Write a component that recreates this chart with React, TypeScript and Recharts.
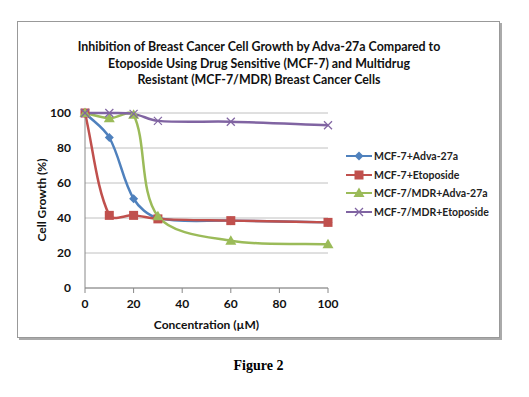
import React from 'react';
import { LineChart, Line, XAxis, YAxis, CartesianGrid } from 'recharts';

// concentrations (µM) shared by all series
const concentrations = [0, 10, 20, 30, 60, 100];
const mcf7Adva = [100, 86, 51, 40, 38.5, 37.5];
const mcf7Etoposide = [100, 41.5, 41.5, 39.5, 38.5, 37.5];
const mdrAdva = [100, 97, 99, 41, 27, 25];
const mdrEtoposide = [100, 100, 99.5, 95.5, 95, 93];

const xTicks = [0, 20, 40, 60, 80, 100];
const yTicks = [0, 20, 40, 60, 80, 100];

const titleLines = [
  'Inhibition of Breast Cancer Cell Growth by Adva-27a Compared to',
  'Etoposide Using Drug Sensitive (MCF-7) and Multidrug',
  'Resistant (MCF-7/MDR) Breast Cancer Cells',
];

const data = concentrations.map((c, i) => ({
  x: c,
  a: mcf7Adva[i],
  b: mcf7Etoposide[i],
  c: mdrAdva[i],
  d: mdrEtoposide[i],
}));

const FONT = 'Lato, "Open Sans", sans-serif';

// Excel-like smooth line: tangent from neighbours, scaled by chord lengths
const smooth = (context: any) => {
  let pts: number[][] = [];
  const dist = (p: number[], q: number[]) => Math.hypot(q[0] - p[0], q[1] - p[1]);
  return {
    areaStart() {},
    areaEnd() {},
    lineStart() {
      pts = [];
    },
    point(x: number, y: number) {
      pts.push([+x, +y]);
    },
    lineEnd() {
      if (!pts.length) return;
      context.moveTo(pts[0][0], pts[0][1]);
      for (let i = 0; i < pts.length - 1; i++) {
        const p0 = pts[i - 1] || pts[i];
        const p1 = pts[i];
        const p2 = pts[i + 1];
        const p3 = pts[i + 2] || p2;
        const d01 = dist(p0, p1);
        const d12 = dist(p1, p2);
        const d23 = dist(p2, p3);
        const k1 = d01 + d12 > 0 ? d12 / (d01 + d12) / 3 : 0;
        const k2 = d12 + d23 > 0 ? d12 / (d12 + d23) / 3 : 0;
        context.bezierCurveTo(
          p1[0] + (p2[0] - p0[0]) * k1,
          p1[1] + (p2[1] - p0[1]) * k1,
          p2[0] - (p3[0] - p1[0]) * k2,
          p2[1] - (p3[1] - p1[1]) * k2,
          p2[0],
          p2[1]
        );
      }
    },
  };
};

const Marker = ({ kind, cx, cy, color }: any) => {
  if (cx == null || cy == null) return null;
  if (kind === 'diamond') {
    const r = 4.5;
    return <polygon points={`${cx},${cy - r} ${cx + r},${cy} ${cx},${cy + r} ${cx - r},${cy}`} fill={color} />;
  }
  if (kind === 'square') {
    return <rect x={cx - 4.5} y={cy - 4.5} width={9} height={9} fill={color} />;
  }
  if (kind === 'triangle') {
    return <polygon points={`${cx},${cy - 5.5} ${cx + 5.5},${cy + 4} ${cx - 5.5},${cy + 4}`} fill={color} />;
  }
  return (
    <g stroke={color} strokeWidth={1.2}>
      <line x1={cx - 4} y1={cy - 4} x2={cx + 4} y2={cy + 4} />
      <line x1={cx - 4} y1={cy + 4} x2={cx + 4} y2={cy - 4} />
    </g>
  );
};

const series = [
  { key: 'a', name: 'MCF-7+Adva-27a', color: '#4F81BD', kind: 'diamond' },
  { key: 'b', name: 'MCF-7+Etoposide', color: '#C0504D', kind: 'square' },
  { key: 'c', name: 'MCF-7/MDR+Adva-27a', color: '#9BBB59', kind: 'triangle' },
  { key: 'd', name: 'MCF-7/MDR+Etoposide', color: '#8064A2', kind: 'x' },
];

const axisTick = { fontFamily: FONT, fontWeight: 700, fontSize: 12, fill: '#111' };

export default function App() {
  return (
    <div style={{ position: 'absolute', left: 0, top: 0, width: 529, height: 397, background: '#fff' }}>
      <div
        style={{
          position: 'absolute',
          left: 17,
          top: 21,
          width: 481,
          height: 315,
          border: '1px solid #999',
          boxShadow: '2px 2px 0 #aaa',
        }}
      />
      <div
        style={{
          position: 'absolute',
          left: 17,
          top: 39,
          width: 484,
          textAlign: 'center',
          fontFamily: FONT,
          fontWeight: 700,
          fontSize: 12.4,
          lineHeight: '16.5px',
          color: '#111',
        }}
      >
        {titleLines.map(t => (
          <div key={t}>{t}</div>
        ))}
      </div>
      <div style={{ position: 'absolute', left: 0, top: 0 }}>
        <LineChart width={529} height={397} data={data} margin={{ top: 113, right: 201, bottom: 84, left: 45 }}>
          <CartesianGrid stroke="#c0c0c0" vertical={false} />
          <XAxis
            dataKey="x"
            type="number"
            domain={[0, 100]}
            ticks={xTicks}
            tick={axisTick}
            stroke="#888"
            height={25}
            tickSize={5}
            tickMargin={6}
          />
          <YAxis
            type="number"
            domain={[0, 100]}
            ticks={yTicks}
            tick={axisTick}
            stroke="#888"
            width={40}
            tickSize={0}
            tickMargin={14}
          />
          {series.map(s => (
            <Line
              key={s.key}
              dataKey={s.key}
              name={s.name}
              type={smooth as any}
              stroke={s.color}
              strokeWidth={2.5}
              dot={(p: any) => <Marker key={`${s.key}-${p.index}`} kind={s.kind} cx={p.cx} cy={p.cy} color={s.color} />}
              activeDot={false}
              isAnimationActive={false}
            />
          ))}
        </LineChart>
      </div>
      {/* axis titles */}
      <div
        style={{
          position: 'absolute',
          left: 85,
          top: 317,
          width: 243,
          textAlign: 'center',
          fontFamily: FONT,
          fontWeight: 700,
          fontSize: 12,
          color: '#111',
        }}
      >
        Concentration (µM)
      </div>
      <div
        style={{
          position: 'absolute',
          left: 42,
          top: 200,
          width: 0,
          height: 0,
        }}
      >
        <div
          style={{
            position: 'absolute',
            left: -60,
            top: -8,
            width: 120,
            textAlign: 'center',
            transform: 'rotate(-90deg)',
            fontFamily: FONT,
            fontWeight: 700,
            fontSize: 12,
            lineHeight: '16px',
            color: '#111',
          }}
        >
          Cell Growth (%)
        </div>
      </div>
      {/* legend */}
      <div
        style={{
          position: 'absolute',
          left: 346,
          top: 147,
          fontFamily: FONT,
          fontWeight: 700,
          fontSize: 10.5,
          color: '#222',
        }}
      >
        {series.map(s => (
          <div key={s.key} style={{ display: 'flex', alignItems: 'center', height: 18.5 }}>
            <svg width={26} height={12} style={{ marginRight: 2 }}>
              <line x1={0} y1={6} x2={26} y2={6} stroke={s.color} strokeWidth={2} />
              <Marker kind={s.kind} cx={13} cy={6} color={s.color} />
            </svg>
            <span>{s.name}</span>
          </div>
        ))}
      </div>
      <div
        style={{
          position: 'absolute',
          left: 0,
          top: 358,
          width: 517,
          textAlign: 'center',
          fontFamily: '"Liberation Serif", serif',
          fontWeight: 700,
          fontSize: 14,
        }}
      >
        Figure 2
      </div>
    </div>
  );
}
